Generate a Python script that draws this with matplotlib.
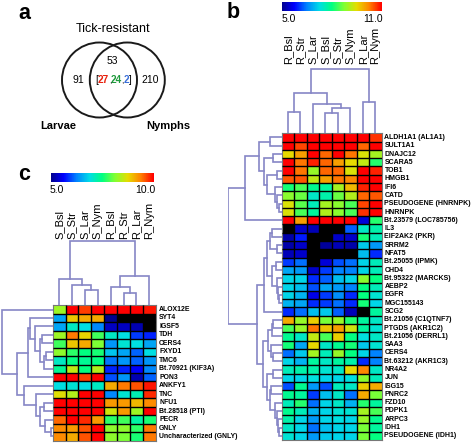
import matplotlib

matplotlib.use("Agg")
import matplotlib.pyplot as plt
import numpy as np
from matplotlib.cm import ScalarMappable
from matplotlib.colors import LinearSegmentedColormap, Normalize
from matplotlib.patches import Circle

plt.rcParams["font.family"] = ["Liberation Sans", "DejaVu Sans"]

W, H = 472, 443

# panel b
b_cols = ["R_Bsl", "R_Str", "S_Lar", "S_Bsl", "S_Str", "S_Nym", "R_Lar", "R_Nym"]
b_rows = [
    "ALDH1A1 (AL1A1)", "SULT1A1", "DNAJC12", "SCARA5", "TOB1", "HMGB1", "IFI6", "CATD",
    "PSEUDOGENE (HNRNPK)", "HNRNPK", "Bt.23579 (LOC785756)", "IL3", "EIF2AK2 (PKR)",
    "SRRM2", "NFAT5", "Bt.25055 (IPMK)", "CHD4", "Bt.95322 (MARCKS)", "AEBP2", "EGFR",
    "MGC155143", "SCG2", "Bt.21056 (C1QTNF7)", "PTGDS (AKR1C2)", "Bt.21056 (DERRL1)",
    "SAA3", "CERS4", "Bt.63212 (AKR1C3)", "NR4A2", "JUN", "ISG15", "PNRC2", "FZD10",
    "PDPK1", "ARPC3", "IDH1", "PSEUDOGENE (IDH1)",
]
b_values = [
    [11, 11, 11, 11, 11, 11, 11, 10.7],
    [11, 10.6, 11, 11, 11, 11, 10.4, 11],
    [9.5, 10, 11, 10.4, 11, 10.3, 9.4, 9.0],
    [11, 10.3, 10.8, 10.4, 10, 9.5, 9.2, 8.2],
    [11, 10.3, 8.9, 10.4, 10.4, 9.4, 11, 10.8],
    [10.5, 10.5, 9.2, 10, 10.3, 10.2, 11, 11],
    [8.1, 8.4, 7.9, 7.8, 9, 9.8, 10.8, 11],
    [8.8, 8.6, 7.5, 7.7, 8.6, 9.1, 10.4, 10.5],
    [9.4, 8.5, 7.6, 9, 8.8, 8.4, 10.6, 11],
    [9.4, 8.4, 7.8, 9.1, 8.8, 8.4, 10.7, 11],
    [11, 10, 11, 11, 11, 11, 5.5, 8.2],
    [4.5, 5.4, 5.3, 4.5, 4.5, 6.3, 7.5, 7.7],
    [5.2, 5.9, 4.5, 4.5, 5.4, 5.4, 8.1, 7.6],
    [5.2, 5.4, 4.5, 5.1, 5.3, 5.2, 7.1, 6.7],
    [5.3, 5.4, 4.5, 4.5, 4.5, 4.5, 7.0, 6.0],
    [6.1, 6.4, 4.5, 5.5, 6.2, 6.4, 7.2, 7.6],
    [6.8, 6.7, 5.4, 6.1, 6.5, 6.5, 7.2, 7.6],
    [7.2, 7.2, 6.0, 6.3, 7, 7.2, 8.8, 8.0],
    [7.2, 7, 6.2, 6.8, 6.7, 6.5, 8, 7.6],
    [7.2, 6.9, 5.6, 6.1, 6.6, 6.0, 8, 7.4],
    [6.9, 6.8, 6, 6.1, 6.4, 6.0, 8.1, 7.2],
    [6, 6.4, 7, 7.1, 6.3, 5.3, 4.5, 7.8],
    [9.9, 8.9, 9.6, 8.7, 8.9, 8.2, 7.8, 7.5],
    [8.4, 8.9, 10.3, 9.7, 10, 9.3, 7.8, 7.4],
    [7.9, 7.5, 9.2, 8.4, 9.6, 8, 7.3, 7.5],
    [8.1, 6.8, 9.5, 7.5, 7.9, 8.1, 7.1, 7.4],
    [6.4, 7.1, 9, 7.6, 8.9, 8, 7.2, 6.5],
    [7.2, 6.9, 7.8, 7.5, 7.8, 7.7, 6.0, 6.5],
    [7.6, 7.7, 7.7, 7.4, 7.5, 9.5, 10.2, 7.5],
    [7.2, 7.2, 7.3, 7.2, 7.2, 7.3, 8.8, 7.6],
    [6.2, 7.9, 6.7, 6.2, 7.6, 7.5, 9.6, 9.9],
    [7.9, 7.8, 6.1, 7, 7.5, 6.4, 9.9, 8.7],
    [7.6, 8.2, 6.4, 7.2, 7.5, 6.9, 8.2, 7.8],
    [7.9, 7.6, 6.9, 7.2, 7.4, 7.4, 9, 8.4],
    [7.7, 7.2, 6.7, 7.2, 7.3, 7.2, 8.9, 7.9],
    [7.5, 7.2, 6.4, 7.0, 7.2, 7.2, 8.7, 7.8],
    [7.4, 7.2, 6.7, 7.1, 7.2, 7.2, 8.7, 8.0],
]
# merges are (child, child, height), new ids continue after the leaves
b_col_tree = [(0, 1, 21), (3, 4, 20), (9, 5, 25), (2, 10, 29), (8, 11, 40), (6, 7, 31), (12, 13, 64)]
b_row_tree = [
    (0, 1, 12), (2, 3, 9), (4, 5, 5), (8, 9, 3), (7, 40, 5), (6, 41, 7), (39, 42, 14.5),
    (38, 43, 18), (37, 44, 23), (45, 10, 37), (11, 12, 10), (13, 14, 5), (47, 48, 12),
    (15, 16, 6), (19, 20, 3), (18, 51, 4), (17, 52, 5), (50, 53, 9.5), (49, 54, 15),
    (55, 21, 18), (22, 23, 8.5), (57, 24, 10), (26, 27, 8.5), (25, 59, 10.5), (58, 60, 14),
    (28, 29, 8.5), (30, 31, 10.5), (35, 36, 2.5), (34, 64, 3.5), (33, 65, 5), (32, 66, 7),
    (63, 67, 12), (62, 68, 14.5), (61, 69, 19), (56, 70, 25), (46, 71, 53.5),
]

# panel c
c_cols = ["S_Bsl", "S_Str", "S_Lar", "S_Nym", "R_Bsl", "R_Str", "R_Lar", "R_Nym"]
c_rows = [
    "ALOX12E", "SYT4", "IGSF5", "TDH", "CERS4", "FXYD1", "TMC6", "Bt.70921 (KIF3A)", "PON3",
    "ANKFY1", "TNC", "NFU1", "Bt.28518 (PTI)", "PECR", "GNLY", "Uncharacterized (GNLY)",
]
c_values = [
    [8.3, 10, 9.7, 10, 10, 10, 10, 9.9],
    [6.5, 8.9, 9.1, 9.1, 5.0, 4.9, 4.8, 4.8],
    [6.5, 7.1, 6.9, 6.3, 5.3, 5.3, 5.2, 4.8],
    [8.3, 9.4, 8.8, 7.8, 7.1, 6.9, 5.9, 5.8],
    [7.8, 8.9, 9.1, 8.1, 6.4, 7, 6.9, 6.5],
    [8.2, 7.7, 7.5, 7.6, 6.7, 6.5, 6.1, 6.9],
    [7.1, 7.5, 7.4, 7.5, 6.2, 6.4, 6.1, 6.4],
    [7.4, 8.5, 7.5, 8.4, 5.8, 5.8, 5.6, 6.3],
    [10, 10, 9.7, 10, 6.0, 6.4, 5.2, 6.1],
    [6.9, 7, 6.9, 7.1, 9.1, 9.4, 9.6, 9.9],
    [8.7, 8.4, 10, 10, 6.3, 7, 7.2, 9.8],
    [10, 10, 10, 10, 9.2, 9.2, 9, 9.3],
    [10, 10, 10, 10, 8.6, 9.2, 8.3, 10],
    [9.5, 10, 9.8, 9.2, 7.7, 7.8, 7.3, 7.6],
    [9.3, 9.2, 9.6, 10, 8.2, 8.2, 7.7, 9.4],
    [9.3, 9.1, 9.6, 10, 8.2, 8.1, 7.6, 9.4],
]
c_col_tree = [(2, 3, 15), (1, 8, 20.7), (0, 9, 26), (5, 6, 12.7), (4, 11, 18), (7, 12, 29), (10, 13, 64)]
c_row_tree = [
    (3, 4, 11), (5, 6, 7), (17, 7, 9), (16, 18, 13), (2, 19, 18), (1, 20, 23), (21, 8, 24.7),
    (14, 15, 1.5), (13, 23, 8), (11, 12, 9), (25, 24, 13), (10, 26, 17), (9, 27, 29),
    (22, 28, 36), (0, 29, 51),
]

# panel a
venn_left = "91"
venn_right = "210"
venn_top = "53"
venn_split = [("27", "#e8200c"), ("24", "#1f9a3c"), ("2", "#3a6fd8")]

heat_colors = ["#00008c", "#0000ff", "#0082ff", "#00dce6", "#00ff82", "#82ff32", "#e6dc00", "#ff8200", "#ff0000"]
heat_cmap = LinearSegmentedColormap.from_list("heat", heat_colors).with_extremes(under="black")
tree_color = "#8686c6"


def px_axes(fig, x0, y0, x1, y1):
    return fig.add_axes([x0 / W, 1 - y1 / H, (x1 - x0) / W, (y1 - y0) / H])


def tree_lines(ax, tree, n, vertical):
    pos = {i: (i + 0.5, 0) for i in range(n)}
    for k, (a, b, h) in enumerate(tree):
        pa, ha = pos[a]
        pb, hb = pos[b]
        p = [pa, pa, pb, pb]
        v = [ha, h, h, hb]
        if vertical:
            ax.plot(p, v, color=tree_color, lw=1.2, solid_joinstyle="miter")
        else:
            ax.plot(v, p, color=tree_color, lw=1.2, solid_joinstyle="miter")
        pos[n + k] = ((pa + pb) / 2, h)


def heatmap(fig, box, values, vmin, vmax):
    x0, y0, x1, y1 = box
    values = np.array(values)
    nrows, ncols = values.shape
    ax = px_axes(fig, x0, y0, x1, y1)
    ax.pcolormesh(values, cmap=heat_cmap, norm=Normalize(vmin, vmax))
    # quadmesh edges drop some rows at this size, so the grid is drawn on top
    ax.hlines(np.arange(1, nrows), 0, ncols, color="black", lw=1.0, zorder=3)
    ax.vlines(np.arange(1, ncols), 0, nrows, color="black", lw=1.0, zorder=3)
    ax.set_ylim(nrows, 0)
    ax.set_xticks([])
    ax.set_yticks([])
    for s in ax.spines.values():
        s.set_color("#777777")
        s.set_linewidth(0.8)
    return ax


def panel(fig, box, values, rows, cols, col_tree, row_tree, col_h, row_w, vmin, vmax, label_bottom, label_x, fs):
    x0, y0, x1, y1 = box
    heatmap(fig, box, values, vmin, vmax)

    top = px_axes(fig, x0, y0 - col_h, x1, y0)
    top.set_xlim(0, len(cols))
    top.set_ylim(0, col_h)
    top.axis("off")
    tree_lines(top, col_tree, len(cols), True)

    left = px_axes(fig, x0 - row_w, y0, x0, y1)
    left.set_xlim(row_w, 0)
    left.set_ylim(len(rows), 0)
    left.axis("off")
    tree_lines(left, row_tree, len(rows), False)

    cw = (x1 - x0) / len(cols)
    rh = (y1 - y0) / len(rows)
    for i, name in enumerate(cols):
        over.text(x0 + cw * (i + 0.5), label_bottom, name, rotation=90, ha="center", va="bottom", fontsize=8)
    for i, name in enumerate(rows):
        over.text(label_x, y0 + rh * (i + 0.5), name, ha="left", va="center", fontsize=fs, fontweight="bold")


def colorbar(fig, box, vmin, vmax, lo, hi, lo_x, hi_x, label_y):
    cax = px_axes(fig, *box)
    cb = fig.colorbar(ScalarMappable(Normalize(vmin, vmax), heat_cmap), cax=cax, orientation="horizontal")
    cb.set_ticks([])
    cb.outline.set_visible(False)
    over.text(lo_x, label_y, lo, ha="center", va="center", fontsize=7.5)
    over.text(hi_x, label_y, hi, ha="center", va="center", fontsize=7.5)


fig = plt.figure(figsize=(W / 100, H / 100), dpi=100, facecolor="white")
over = fig.add_axes([0, 0, 1, 1], zorder=5)
over.set_xlim(0, W)
over.set_ylim(H, 0)
over.axis("off")
over.patch.set_alpha(0)

panel(fig, (281.7, 133.3, 381.7, 440), b_values, b_rows, b_cols, b_col_tree, b_row_tree,
      66, 54, 5, 11, 63.5, 384.5, 5.0)
colorbar(fig, (281.7, 1.7, 382, 11), 5, 11, "5.0", "11.0", 288.5, 373, 19)

panel(fig, (52.7, 305.3, 155.7, 440.7), c_values, c_rows, c_cols, c_col_tree, c_row_tree,
      66, 52, 5, 10, 238.5, 159, 4.95)
colorbar(fig, (50.7, 173.3, 153.7, 182.3), 5, 10, "5.0", "10.0", 57, 145, 190)

# venn
for cx in (99.5, 127.3):
    over.add_patch(Circle((cx, 80), 37.5, fill=False, edgecolor="#1a1a1a", lw=1.4))
over.text(112.7, 29, "Tick-resistant", ha="center", va="center", fontsize=9)
over.text(112.7, 60.5, venn_top, ha="center", va="center", fontsize=7.5)
over.text(78, 79.5, venn_left, ha="center", va="center", fontsize=7.5)
over.text(150, 79.5, venn_right, ha="center", va="center", fontsize=7.5)
over.text(96.5, 79.5, "[", ha="center", va="center", fontsize=7)
for (txt, col), x in zip(venn_split, (103.3, 116, 126.3)):
    over.text(x, 79.5, txt, color=col, ha="center", va="center", fontsize=7.2, fontweight="bold")
over.text(109.9, 81.5, ",", ha="center", va="center", fontsize=6)
over.text(122.5, 81.5, ",", ha="center", va="center", fontsize=6)
over.text(130.7, 79.5, "]", ha="center", va="center", fontsize=7)
over.text(58.5, 125.5, "Larvae", ha="center", va="center", fontsize=8, fontweight="bold")
over.text(168.5, 126, "Nymphs", ha="center", va="center", fontsize=8, fontweight="bold")

over.text(24, 13, "a", ha="center", va="center", fontsize=15.5, fontweight="bold")
over.text(233, 12, "b", ha="center", va="center", fontsize=15.5, fontweight="bold")
over.text(24, 174, "c", ha="center", va="center", fontsize=15.5, fontweight="bold")

fig.savefig("out.png", dpi=100)
plt.close()
